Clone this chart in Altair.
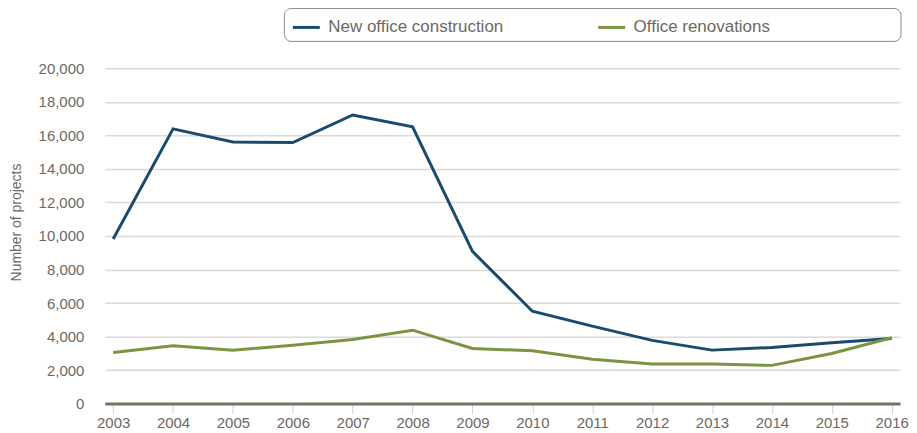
import altair as alt
import pandas as pd

years = [str(y) for y in range(2003, 2017)]
new_office = [9820, 16390, 15610, 15570, 17220, 16510, 9080, 5510, 4620, 3770, 3190, 3350, 3630, 3890]
renovations = [3050, 3450, 3180, 3480, 3820, 4380, 3290, 3150, 2640, 2360, 2360, 2280, 2990, 3930]
series_names = ["New office construction", "Office renovations"]
series_colors = ["#1a4b6d", "#7a9442"]

rows = []
for name, vals in zip(series_names, [new_office, renovations]):
    for y, v in zip(years, vals):
        rows.append({"Year": y, "Series": name, "Projects": v})
df = pd.DataFrame(rows)

TEXT = "#6d6863"
FONT = "Liberation Sans"

lines = alt.Chart(df).mark_line(strokeWidth=3).encode(
    x=alt.X("Year:O", scale=alt.Scale(type="point", padding=0.14),
            axis=alt.Axis(title=None, labelAngle=0, domainColor="#787064", domainWidth=3,
                          tickColor="#c8d4e2", tickSize=10, tickWidth=1,
                          labelPadding=2, labelFontSize=15, labelColor=TEXT,
                          labelFont=FONT, grid=False)),
    y=alt.Y("Projects:Q", scale=alt.Scale(domain=[0, 20000], nice=False),
            axis=alt.Axis(title="Number of projects", values=list(range(0, 20001, 2000)),
                          format=",d", domain=False, ticks=False, tickSize=0,
                          labelPadding=21, labelFontSize=15, labelColor=TEXT, labelFont=FONT,
                          gridColor="#dadada", gridWidth=1.5,
                          titleFontSize=14, titleFontWeight="normal", titleColor=TEXT,
                          titleFont=FONT, titleX=-88, titleY=154, titleBaseline="middle",
                          titleAngle=270)),
    color=alt.Color("Series:N", scale=alt.Scale(domain=series_names, range=series_colors),
                    legend=alt.Legend(title=None, orient="none", legendX=187, legendY=-56,
                                      direction="horizontal", symbolType="stroke",
                                      symbolSize=729, symbolStrokeWidth=3,
                                      labelFontSize=17, labelColor=TEXT, labelFont=FONT,
                                      labelOffset=7, columnPadding=88, padding=0,
                                      labelLimit=400)),
)

box = alt.Chart(pd.DataFrame({"a": [0]})).mark_rect(
    fill="white", fillOpacity=0, stroke="#8a8a8a", strokeWidth=1, cornerRadius=7
).encode(
    x=alt.value(180), x2=alt.value(798), y=alt.value(-60), y2=alt.value(-27)
)

chart = alt.layer(lines, box).properties(
    width=797, height=336,
    autosize=alt.AutoSizeParams(type="none"),
    padding={"left": 97, "top": 60, "right": 9, "bottom": 29},
).configure_view(stroke=None)

chart.save("out.html", embed_options={"renderer": "svg", "actions": False})
